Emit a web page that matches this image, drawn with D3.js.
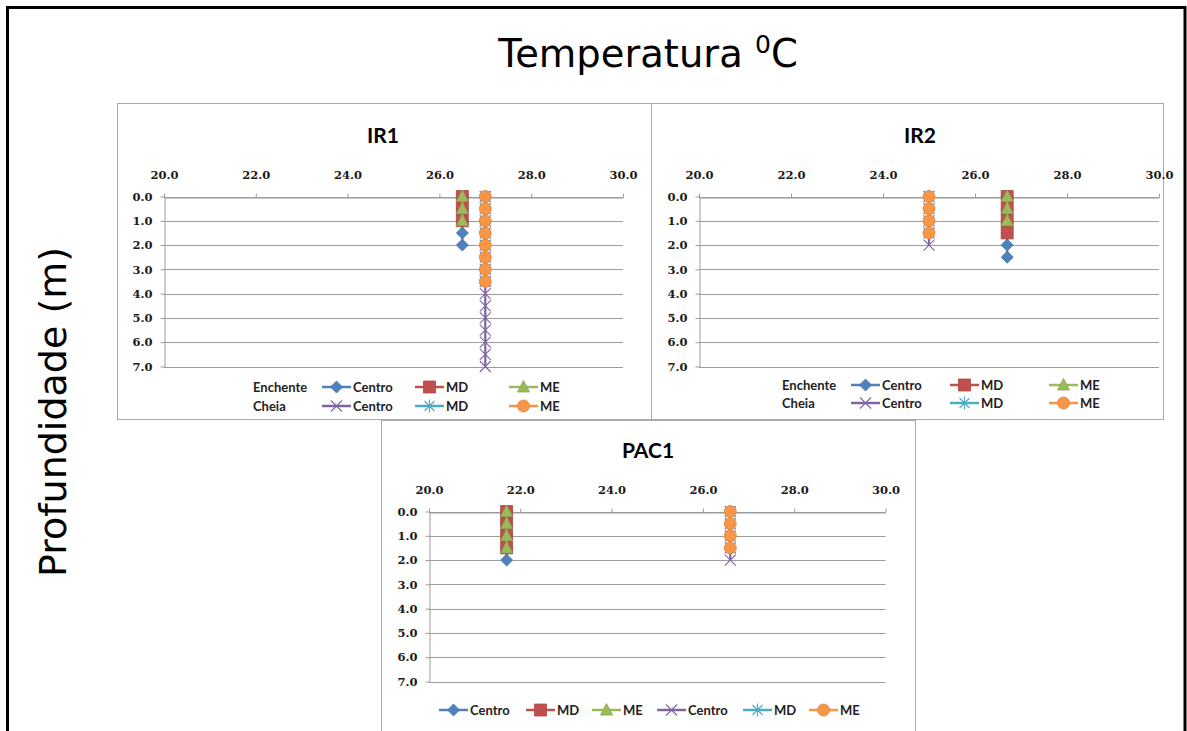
<!DOCTYPE html>
<html>
<head>
<meta charset="utf-8">
<script src="https://cdn.jsdelivr.net/npm/d3@7"></script>
<style>
  body { margin: 0; background: #fff; }
  svg { display: block; }
</style>
</head>
<body>
<svg id="chart" width="1187" height="731"></svg>
<script>
// Depth levels (m) at which the profiles were measured
const profundidades = [0.0, 0.5, 1.0, 1.5, 2.0, 2.5, 3.0, 3.5, 4.0, 4.5, 5.0, 5.5, 6.0, 6.5, 7.0];
const depthTicks = [0, 1, 2, 3, 4, 5, 6, 7];
const tempTicks = [20, 22, 24, 26, 28, 30];
const campanhas = ["Enchente", "Cheia"];
const seriesLabels = ["Centro", "MD", "ME", "Centro", "MD", "ME"];

// IR1 – temperature (°C) at each depth level, listed from the surface down
const ir1EnchenteCentro = [26.5, 26.5, 26.5, 26.5, 26.5];
const ir1EnchenteMD     = [26.5, 26.5, 26.5];
const ir1EnchenteME     = [26.5, 26.5, 26.5];
const ir1CheiaCentro    = [27.0, 27.0, 27.0, 27.0, 27.0, 27.0, 27.0, 27.0, 27.0, 27.0, 27.0, 27.0, 27.0, 27.0, 27.0];
const ir1CheiaMD        = [27.0, 27.0, 27.0, 27.0, 27.0, 27.0, 27.0, 27.0];
const ir1CheiaME        = [27.0, 27.0, 27.0, 27.0, 27.0, 27.0, 27.0, 27.0];

// IR2
const ir2EnchenteCentro = [26.7, 26.7, 26.7, 26.7, 26.7, 26.7];
const ir2EnchenteMD     = [26.7, 26.7, 26.7, 26.7];
const ir2EnchenteME     = [26.7, 26.7, 26.7];
const ir2CheiaCentro    = [25.0, 25.0, 25.0, 25.0, 25.0];
const ir2CheiaMD        = [25.0, 25.0, 25.0, 25.0];
const ir2CheiaME        = [25.0, 25.0, 25.0, 25.0];

// PAC1
const pac1EnchenteCentro = [21.7, 21.7, 21.7, 21.7, 21.7];
const pac1EnchenteMD     = [21.7, 21.7, 21.7, 21.7];
const pac1EnchenteME     = [21.7, 21.7, 21.7, 21.7];
const pac1CheiaCentro    = [26.6, 26.6, 26.6, 26.6, 26.6];
const pac1CheiaMD        = [26.6, 26.6, 26.6, 26.6];
const pac1CheiaME        = [26.6, 26.6, 26.6, 26.6];

// Series styling (Enchente: Centro, MD, ME; Cheia: Centro, MD, ME)
const seriesColors  = ["#4F81BD", "#C0504D", "#9BBB59", "#8064A2", "#4BACC6", "#F79646"];
const seriesMarkers = ["diamond", "square", "triangle", "times", "asterisk", "circle"];

const svg = d3.select("#chart");
const fmt = d3.format(".1f");

// Marker shapes as path strings centred on (0,0)
function markerPath(kind) {
  switch (kind) {
    case "diamond":  return "M0,-6L6,0L0,6L-6,0Z";
    case "square":   return "M-6,-6H6V6H-6Z";
    case "triangle": return "M0,-6.5L6,5H-6Z";
    case "times":    return "M-5.5,-5.5L5.5,5.5M5.5,-5.5L-5.5,5.5";
    case "asterisk": return "M-5,-5L5,5M5,-5L-5,5M0,-6.5V6.5";
    case "circle":   return d3.symbol(d3.symbolCircle, 113)();
  }
}
function drawMarker(sel, i) {
  const kind = seriesMarkers[i], c = seriesColors[i];
  const stroked = kind === "times" || kind === "asterisk";
  sel.append("path")
    .attr("d", markerPath(kind))
    .attr("fill", stroked ? "none" : c)
    .attr("stroke", stroked ? c : d3.color(c).darker(0.35))
    .attr("stroke-width", stroked ? 1.1 : 0.8);
}

const legendFont = "Lato, 'Open Sans', sans-serif";

function drawPanel(cfg) {
  const g = svg.append("g");
  g.append("rect")
    .attr("x", cfg.box[0] + 0.5).attr("y", cfg.box[1] + 0.5)
    .attr("width", cfg.box[2] - cfg.box[0]).attr("height", cfg.box[3] - cfg.box[1])
    .attr("fill", "#fff").attr("stroke", "#ababab").attr("stroke-width", 1);

  const x = d3.scaleLinear().domain([20, 30]).range(cfg.xr);
  const y = d3.scaleLinear().domain([0, 7]).range(cfg.yr);

  g.append("text")
    .attr("x", cfg.title[0]).attr("y", cfg.title[1])
    .attr("text-anchor", "middle").attr("dominant-baseline", "central")
    .attr("font-family", legendFont).attr("font-weight", "bold").attr("font-size", 21)
    .text(cfg.name);

  // horizontal gridlines
  g.append("g").selectAll("line").data(depthTicks).join("line")
    .attr("x1", x(20)).attr("x2", x(30))
    .attr("y1", d => Math.round(y(d)) + 0.5).attr("y2", d => Math.round(y(d)) + 0.5)
    .attr("stroke", "#9c9c9c").attr("stroke-width", 1);

  const axisStyle = a => {
    a.selectAll(".domain, .tick line").attr("stroke", "#9c9c9c");
    a.selectAll("text")
      .attr("font-family", "'DejaVu Serif', serif").attr("font-weight", "bold")
      .attr("font-size", 11.5).attr("fill", "#1a1a1a");
  };
  g.append("g").attr("transform", `translate(0,${Math.round(y(0)) + 0.5})`)
    .call(d3.axisTop(x).tickValues(tempTicks).tickFormat(fmt).tickSize(4).tickSizeOuter(0).tickPadding(15))
    .call(axisStyle);
  g.append("g").attr("transform", `translate(${Math.round(x(20)) + 0.5},0)`)
    .call(d3.axisLeft(y).tickValues(depthTicks).tickFormat(fmt).tickSize(4).tickSizeOuter(0).tickPadding(8))
    .call(axisStyle);

  // profiles: line then markers, in series order
  cfg.series.forEach((temps, i) => {
    const pts = temps.map((t, k) => [x(t), y(profundidades[k])]);
    g.append("path").attr("d", d3.line()(pts))
      .attr("fill", "none").attr("stroke", seriesColors[i]).attr("stroke-width", 2.25);
    pts.forEach(p => drawMarker(g.append("g").attr("transform", `translate(${p[0]},${p[1]})`), i));
  });

  // legend
  const lg = g.append("g").attr("font-family", legendFont).attr("font-weight", "bold")
    .attr("font-size", 13).attr("fill", "#222");
  if (cfg.legendRows) {
    cfg.legendRows.forEach((ry, r) => {
      lg.append("text").attr("x", cfg.legendLabelX).attr("y", ry)
        .attr("dominant-baseline", "central").text(campanhas[r]);
    });
  }
  cfg.legendItems.forEach((it, i) => {
    const e = lg.append("g").attr("transform", `translate(${it[0]},${it[1]})`);
    e.append("line").attr("x1", 0).attr("x2", 29).attr("y1", 0).attr("y2", 0)
      .attr("stroke", seriesColors[i]).attr("stroke-width", 2.5);
    drawMarker(e.append("g").attr("transform", "translate(14.5,0)"), i);
    e.append("text").attr("x", 31).attr("y", 0).attr("dominant-baseline", "central").text(seriesLabels[i]);
  });
}

drawPanel({
  name: "IR1", box: [117, 103, 651, 419], xr: [164, 623], yr: [196.5, 366.5], title: [383, 134],
  series: [ir1EnchenteCentro, ir1EnchenteMD, ir1EnchenteME, ir1CheiaCentro, ir1CheiaMD, ir1CheiaME],
  legendLabelX: 253, legendRows: [387, 406],
  legendItems: [[322, 387], [415, 387], [509, 387], [322, 406], [415, 406], [509, 406]]
});
drawPanel({
  name: "IR2", box: [651, 103, 1163, 419], xr: [699, 1159], yr: [196.5, 366.5], title: [920, 134],
  series: [ir2EnchenteCentro, ir2EnchenteMD, ir2EnchenteME, ir2CheiaCentro, ir2CheiaMD, ir2CheiaME],
  legendLabelX: 782, legendRows: [385, 403],
  legendItems: [[851, 385], [950, 385], [1049, 385], [851, 403], [950, 403], [1049, 403]]
});
drawPanel({
  name: "PAC1", box: [381, 420, 915, 745], xr: [429, 885.5], yr: [511.5, 681.5], title: [648, 449],
  series: [pac1EnchenteCentro, pac1EnchenteMD, pac1EnchenteME, pac1CheiaCentro, pac1CheiaMD, pac1CheiaME],
  legendItems: [[439, 710], [526, 710], [592, 710], [657, 710], [743, 710], [809, 710]]
});

// outer frame (open at the bottom)
svg.append("path").attr("d", "M7.5,731V7.5H1185V731")
  .attr("fill", "none").attr("stroke", "#000").attr("stroke-width", 3);

// overall title and depth label
const t = svg.append("text").attr("x", 648).attr("y", 67).attr("text-anchor", "middle")
  .attr("font-family", "'DejaVu Sans', sans-serif").attr("font-size", 38.5).attr("fill", "#000");
t.append("tspan").text("Temperatura ");
t.append("tspan").attr("font-size", 25).attr("dy", -14).text("0");
t.append("tspan").attr("dy", 14).text("C");

svg.append("text").attr("transform", "translate(66,412) rotate(-90)")
  .attr("text-anchor", "middle")
  .attr("font-family", "'DejaVu Sans', sans-serif").attr("font-size", 38).attr("fill", "#000")
  .text("Profundidade (m)");
</script>
</body>
</html>
